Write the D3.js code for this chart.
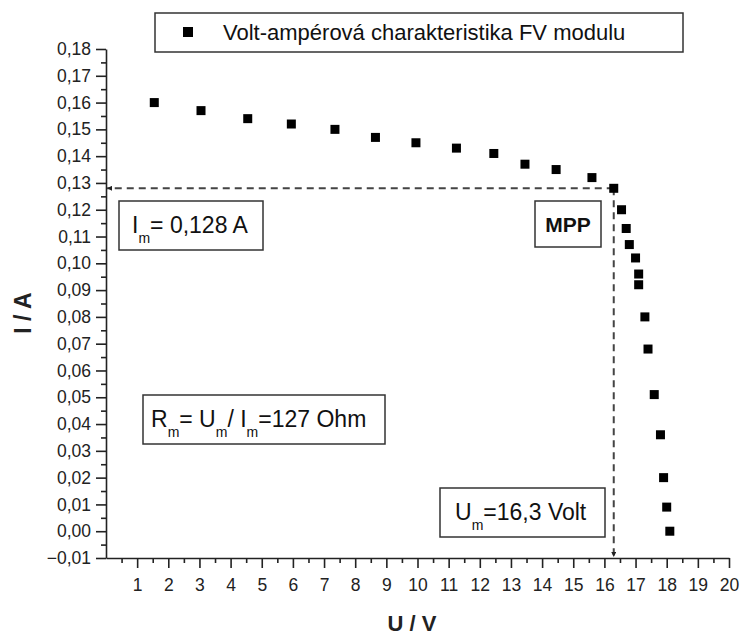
<!DOCTYPE html>
<html>
<head>
<meta charset="utf-8">
<script src="https://cdn.jsdelivr.net/npm/d3@7"></script>
<style>
  body { margin: 0; background: #fff; }
  svg { display: block; font-family: "Liberation Sans", Arial, sans-serif; }
</style>
</head>
<body>
<div id="chart"></div>
<script>
// measured points of the I-V curve
var uVolts = [1.55, 3.05, 4.55, 5.95, 7.35, 8.65, 9.95, 11.25, 12.45, 13.45, 14.45, 15.6, 16.3,
              16.55, 16.7, 16.8, 17.0, 17.1, 17.1, 17.3, 17.4, 17.6, 17.8, 17.9, 18.0, 18.1];
var iAmps  = [0.160, 0.157, 0.154, 0.152, 0.150, 0.147, 0.145, 0.143, 0.141, 0.137, 0.135, 0.132, 0.128,
              0.120, 0.113, 0.107, 0.102, 0.096, 0.092, 0.080, 0.068, 0.051, 0.036, 0.020, 0.009, 0.000];

// maximum power point
var mppU = 16.3;
var mppI = 0.128;

var xTickValues = d3.range(1, 21);
var yTickValues = d3.range(-1, 19).map(function (d) { return d / 100; });

var legendLabel = "Volt-ampérová charakteristika FV modulu";

function init() {
    var w = 745, h = 637;
    var left = 106, right = 729, top = 49, bottom = 558;

    var svg = d3.select("#chart").append("svg")
        .attr("width", w)
        .attr("height", h);

    var x = d3.scaleLinear().domain([0, 20]).range([left, right]);
    var y = d3.scaleLinear().domain([-0.01, 0.18]).range([bottom, top]);

    var fmt = function (d) { return d3.format(".2f")(d).replace(".", ","); };

    // minor ticks first
    svg.append("g")
        .attr("transform", "translate(0," + bottom + ")")
        .call(d3.axisBottom(x).tickValues(d3.range(0.5, 20, 1)).tickSize(5).tickSizeOuter(0).tickFormat(""))
        .call(function (g) { g.select(".domain").remove(); });
    svg.append("g")
        .attr("transform", "translate(" + left + ",0)")
        .call(d3.axisLeft(y).tickValues(d3.range(-1, 18).map(function (d) { return d / 100 + 0.005; }))
            .tickSize(5).tickSizeOuter(0).tickFormat(""))
        .call(function (g) { g.select(".domain").remove(); });

    var xAxis = svg.append("g")
        .attr("transform", "translate(0," + bottom + ")")
        .call(d3.axisBottom(x).tickValues(xTickValues).tickSize(10).tickSizeOuter(0).tickPadding(11));
    var yAxis = svg.append("g")
        .attr("transform", "translate(" + left + ",0)")
        .call(d3.axisLeft(y).tickValues(yTickValues).tickSize(10).tickSizeOuter(0).tickPadding(5).tickFormat(fmt));

    svg.selectAll(".tick line, .domain").attr("stroke", "#222").attr("stroke-width", 1.6);
    svg.selectAll(".tick text").attr("font-size", 17.5).attr("fill", "#222")
        .attr("font-family", "Liberation Sans, Arial, sans-serif");

    // axis titles
    svg.append("text")
        .attr("x", 412).attr("y", 631)
        .attr("text-anchor", "middle")
        .attr("font-size", 22).attr("font-weight", "bold").attr("fill", "#222")
        .text("U / V");
    svg.append("text")
        .attr("transform", "translate(31,313) rotate(-90)")
        .attr("text-anchor", "middle")
        .attr("font-size", 23).attr("font-weight", "bold").attr("fill", "#222")
        .text("I / A");

    // arrow marker
    svg.append("defs").append("marker")
        .attr("id", "arr")
        .attr("viewBox", "0 0 10 10")
        .attr("refX", 10).attr("refY", 5)
        .attr("markerWidth", 5).attr("markerHeight", 5)
        .attr("markerUnits", "userSpaceOnUse")
        .attr("orient", "auto")
        .append("path").attr("d", "M0,0 L10,5 L0,10 z").attr("fill", "#222");

    // dashed guides from MPP to the axes
    svg.append("line")
        .attr("x1", x(mppU)).attr("y1", y(mppI))
        .attr("x2", left + 1).attr("y2", y(mppI))
        .attr("stroke", "#444").attr("stroke-width", 2).attr("stroke-dasharray", "7,5")
        .attr("marker-end", "url(#arr)");
    svg.append("line")
        .attr("x1", x(mppU)).attr("y1", y(mppI))
        .attr("x2", x(mppU)).attr("y2", bottom - 1)
        .attr("stroke", "#444").attr("stroke-width", 2).attr("stroke-dasharray", "7,5")
        .attr("marker-end", "url(#arr)");

    // data points
    svg.selectAll(".pt")
        .data(d3.zip(uVolts, iAmps))
        .enter()
        .append("rect")
        .attr("class", "pt")
        .attr("x", function (d) { return x(d[0]) - 4.5; })
        .attr("y", function (d) { return y(d[1]) - 4.5; })
        .attr("width", 9).attr("height", 9)
        .attr("fill", "#000");

    // boxes
    function box(x0, y0, bw, bh) {
        svg.append("rect")
            .attr("x", x0).attr("y", y0).attr("width", bw).attr("height", bh)
            .attr("fill", "#fff").attr("stroke", "#333").attr("stroke-width", 1.5);
    }

    // legend
    box(155, 13, 528, 39);
    svg.append("rect").attr("x", 183).attr("y", 27).attr("width", 10).attr("height", 10).attr("fill", "#000");
    svg.append("text").attr("x", 223).attr("y", 40)
        .attr("font-size", 22).attr("fill", "#111")
        .text(legendLabel);

    // text with subscript parts: [text, isSub]
    function subText(tx, ty, parts) {
        var t = svg.append("text").attr("x", tx).attr("y", ty)
            .attr("font-size", 23).attr("fill", "#111");
        var down = false;
        parts.forEach(function (p) {
            var s = t.append("tspan").text(p[0]);
            if (p[1]) {
                s.attr("font-size", 14).attr("dy", 10);
                down = true;
            } else if (down) {
                s.attr("dy", -10);
                down = false;
            }
        });
    }

    box(119, 201, 144, 49);
    subText(132, 233, [["I"], ["m", 1], ["= 0,128 A"]]);

    box(535, 201, 66, 46);
    svg.append("text").attr("x", 568).attr("y", 232)
        .attr("text-anchor", "middle")
        .attr("font-size", 21).attr("font-weight", "bold").attr("fill", "#111")
        .text("MPP");

    box(143, 395, 242, 49);
    subText(151, 427, [["R"], ["m", 1], ["= U"], ["m", 1], ["/ I"], ["m", 1], ["=127 Ohm"]]);

    box(440, 488, 165, 49);
    subText(455, 520, [["U"], ["m", 1], ["=16,3 Volt"]]);
}

window.onload = init;
</script>
</body>
</html>
